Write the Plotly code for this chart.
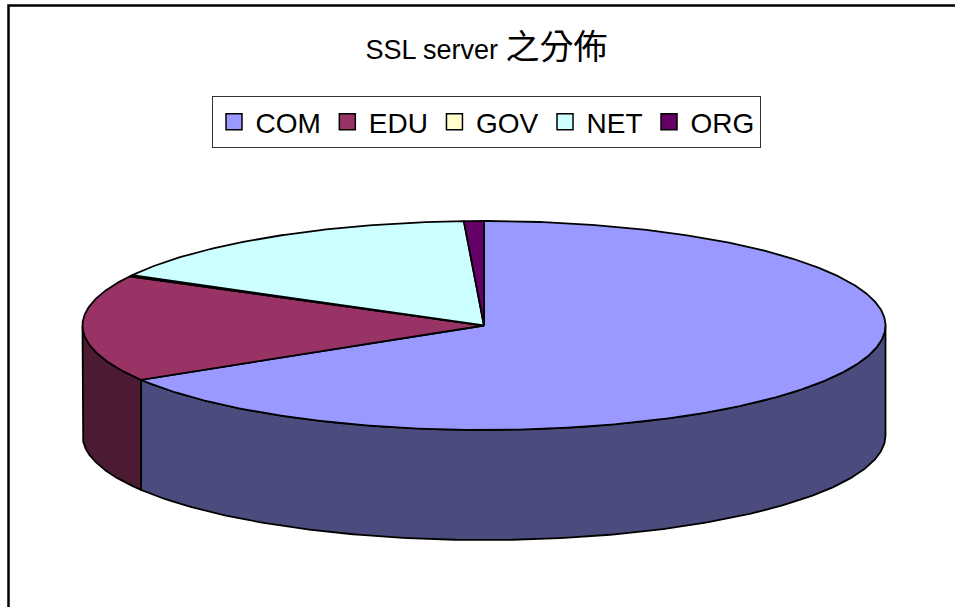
import numpy as np
import plotly.graph_objects as go

# ---- data ----
labels = ["COM", "EDU", "GOV", "NET", "ORG"]
values = [66.3, 16.5, 0.2, 16.2, 0.8]
top_colors = ["#9999FF", "#993366", "#FFFFCC", "#CCFFFF", "#660066"]
side_colors = ["#4B4B7D", "#4D1A33", "#80806A", "#668080", "#330033"]
title_text = 'SSL server <span style="font-size:34px">之分佈</span>'

# ---- geometry (pixel layout of the 3D pie) ----
W, H = 955, 607
CX, CY = 484.0, 325.5       # centre of top face (pixels)
RX, RY = 401.5, 104.5       # ellipse radii (pixels)
DEPTH = 110.0               # thickness (pixels)
S = RX                      # pixels per unit

B = RY / S
D = DEPTH / S


def pt(theta_deg, drop=0.0):
    t = np.radians(theta_deg)
    return np.sin(t), B * np.cos(t) - drop


total = float(sum(values))
bounds = np.concatenate([[0.0], np.cumsum(values) / total * 360.0])

fig = go.Figure()

# side walls (front half only: 90..270 degrees)
for i, lab in enumerate(labels):
    s, e = bounds[i], bounds[i + 1]
    a0, a1 = max(s, 90.0), min(e, 270.0)
    if a1 <= a0:
        continue
    th = np.linspace(a0, a1, 200)
    xt, yt = pt(th)
    xb, yb = pt(th[::-1], D)
    xs = np.concatenate([xt, xb, xt[:1]])
    ys = np.concatenate([yt, yb, yt[:1]])
    fig.add_trace(go.Scatter(x=xs, y=ys, mode="lines", fill="toself",
                             fillcolor=side_colors[i],
                             line=dict(color="black", width=1.8),
                             showlegend=False, hoverinfo="skip"))

# top faces
for i, lab in enumerate(labels):
    s, e = bounds[i], bounds[i + 1]
    n = max(3, int((e - s) * 2))
    th = np.linspace(s, e, n)
    xa, ya = pt(th)
    xs = np.concatenate([[0.0], xa, [0.0]])
    ys = np.concatenate([[0.0], ya, [0.0]])
    fig.add_trace(go.Scatter(x=xs, y=ys, mode="lines", fill="toself",
                             fillcolor=top_colors[i],
                             line=dict(color="black", width=1.8),
                             showlegend=False, hoverinfo="skip"))

# legend entries
for i, lab in enumerate(labels):
    fig.add_trace(go.Scatter(x=[None], y=[None], mode="markers", name=lab,
                             marker=dict(symbol="square", size=16, color=top_colors[i],
                                         line=dict(color="black", width=1.5))))

fig.update_layout(
    width=W, height=H,
    margin=dict(l=0, r=0, t=0, b=0),
    paper_bgcolor="white", plot_bgcolor="white",
    font=dict(family="Liberation Sans, Arial, Noto Sans CJK TC", color="black"),
    title=dict(text=title_text, x=486.5 / W, xanchor="center",
               y=1 - 50 / H, yanchor="middle",
               font=dict(size=27, family="Liberation Sans, Noto Sans CJK TC", color="black")),
    legend=dict(orientation="h", x=486 / W, xanchor="center", y=1 - 96 / H, yanchor="top",
                font=dict(size=28, family="Liberation Sans, Arial", color="black"),
                bordercolor="#333333", borderwidth=1, bgcolor="white", itemwidth=33,
                itemclick=False, itemdoubleclick=False, traceorder="normal"),
    xaxis=dict(range=[-CX / S, (W - CX) / S], visible=False, fixedrange=True),
    yaxis=dict(range=[(CY - H) / S, CY / S], visible=False, fixedrange=True),
    showlegend=True,
    shapes=[dict(type="rect", xref="paper", yref="paper",
                 x0=8.5 / W, x1=1.02, y0=-0.05, y1=1 - 5.5 / H,
                 line=dict(color="black", width=2.5), fillcolor="rgba(0,0,0,0)", layer="above")],
)

fig.write_html("out.html", config={"displayModeBar": False},
               post_script="document.body.style.margin='0';document.body.style.overflow='hidden';")
